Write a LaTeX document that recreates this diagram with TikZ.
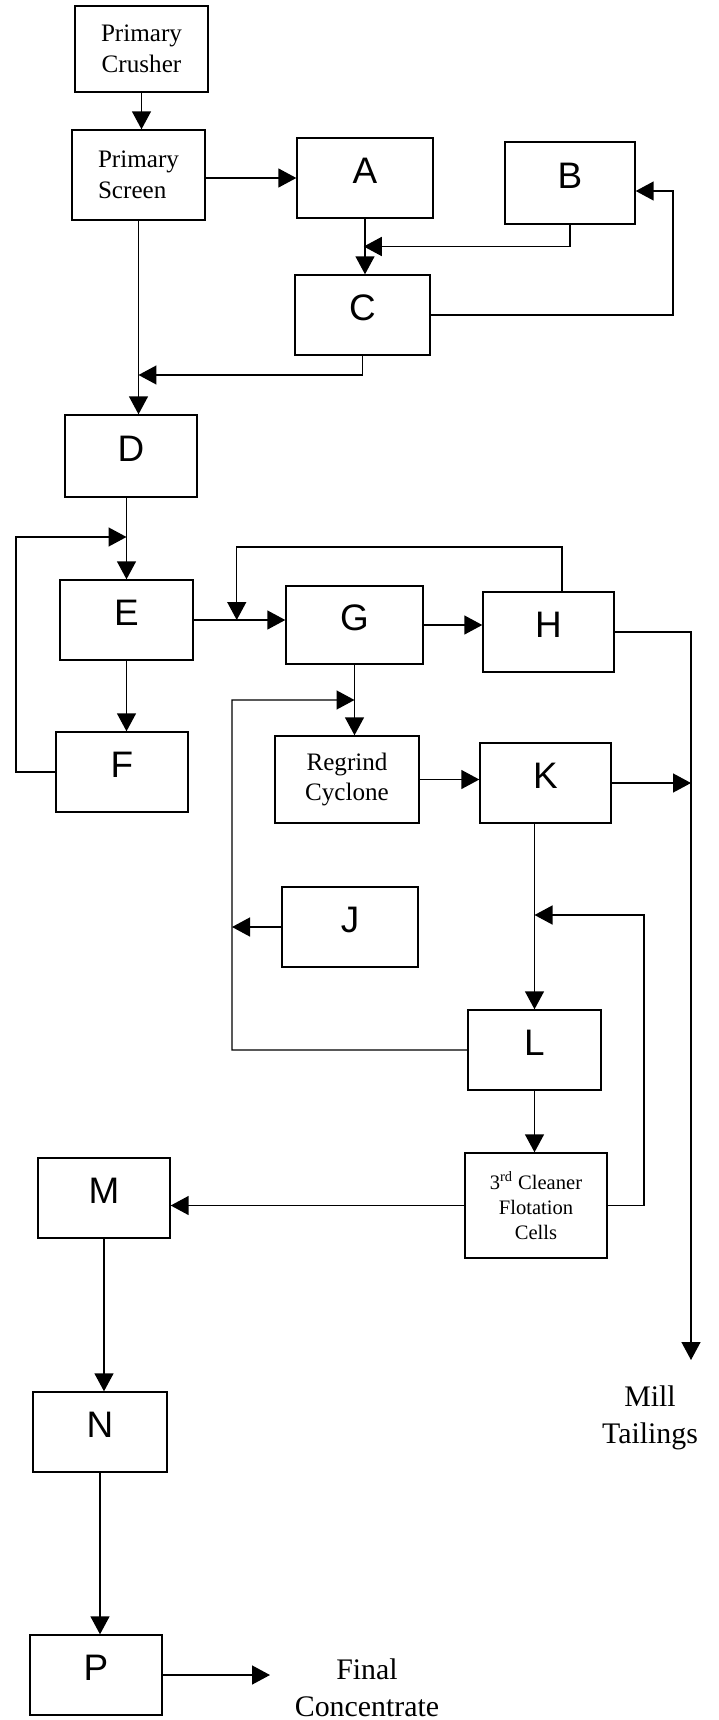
\documentclass[tikz,border=0pt]{standalone}
\usepackage{fontspec}
\setmainfont{Liberation Serif}
\newfontfamily\lettersf{Liberation Sans}
\usepackage{tikz}
\usetikzlibrary{arrows.meta, calc, positioning}

\begin{document}
\begin{tikzpicture}[>={Triangle[length=0.36cm, width=0.38cm]}, x=0.02cm, y=-0.02cm, line width=0.8pt,
    unit/.style={draw, minimum width=2.66cm, minimum height=1.6cm, inner sep=2pt},
    letter/.style={unit, font=\lettersf\fontsize{21}{25}\selectfont, text depth=0.28cm},
    word/.style={unit, align=center, font=\fontsize{14.3}{17.6}\selectfont},
    outlet/.style={align=center, inner sep=0pt, font=\fontsize{17}{21}\selectfont}]
    \useasboundingbox (0,0) rectangle (719,1720);

    % 1. Crushing and screening circuit
    \node[word, minimum height=1.72cm] (crusher) at (141.5,49) {Primary\\Crusher};
    \node[word, align=left, minimum height=1.8cm] (screen) at (138.5,175) {Primary\\Screen};
    \node[letter, minimum width=2.72cm] (A) at (365,178) {A};
    \node[letter, minimum width=2.6cm, minimum height=1.64cm] (B) at (570,183) {B};
    \node[letter, minimum width=2.7cm] (C) at (362.5,315) {C};
    \node[letter, minimum width=2.64cm, minimum height=1.64cm] (D) at (131,456) {D};

    % 2. Grinding and flotation
    \node[letter] (E) at (126.5,620) {E};
    \node[letter, minimum width=2.64cm] (F) at (122,772) {F};
    \node[letter, minimum width=2.74cm, minimum height=1.56cm] (G) at (354.5,625) {G};
    \node[letter, minimum width=2.62cm] (H) at (548.5,632) {H};
    \node[word, minimum width=2.88cm, minimum height=1.74cm] (regrind) at (347,779.5) {Regrind\\Cyclone};
    \node[letter, minimum width=2.62cm] (K) at (545.5,783) {K};
    \node[letter, minimum width=2.72cm] (J) at (350,927) {J};
    \node[letter] (L) at (534.5,1050) {L};
    \node[word, minimum width=2.84cm, minimum height=2.1cm, font=\fontsize{11.7}{14.2}\selectfont] (cleaner) at (536,1205.5) {3\textsuperscript{rd} Cleaner\\Flotation\\Cells};

    % 3. Concentrate handling
    \node[letter, minimum width=2.64cm] (M) at (104,1198) {M};
    \node[letter, minimum width=2.68cm] (N) at (100,1432) {N};
    \node[letter, minimum width=2.64cm] (P) at (96,1675) {P};
    \node[outlet] (tailings) at (650,1418) {Mill\\Tailings};
    \node[outlet] (final) at (367,1688) {Final\\Concentrate};

    % 4. Bend points of the loops
    \coordinate (ac) at ($(A.south)!0.5!(C.north)$);
    \coordinate (cloop) at (673,191);
    \coordinate (sd) at (screen.south |- 0,375);
    \coordinate (de) at (E.north |- 0,537);
    \coordinate (floop) at (16,537);
    \coordinate (eg) at ($(E.east)!0.47!(E.east -| G.west)$);
    \coordinate (hloop) at (562,547);
    \coordinate (tail) at (691,1360);
    \coordinate (gr) at ($(G.south)!0.5!(G.south |- regrind.north)$);
    \coordinate (rloop) at (232,700);
    \coordinate (kloop) at (644,915);
    \coordinate (pout) at (270,1677);

    % 5. Flow lines
    \draw[->] (crusher.south) -- (crusher.south |- screen.north);
    \draw[->] (screen.east |- A.west) -- (A.west);
    \draw[->] (A.south) -- (A.south |- C.north);
    \draw[->] (B.south) |- (ac);
    \draw[->] (C.east) -| (cloop) -- (cloop -| B.east);
    \draw[->] (screen.south) -- (screen.south |- D.north);
    \draw[->] (C.south) |- (sd);
    \draw[->] (E.north |- D.south) -- (E.north);
    \draw[->] (F.west) -| (floop) -- (de);
    \draw[->] (E.south) -- (E.south |- F.north);
    \draw[->] (E.east) -- (E.east -| G.west);
    \draw[->] (hloop |- H.north) -- (hloop) -| (eg);
    \draw[->] (G.east) -- (G.east -| H.west);
    \draw[->] (H.east) -| (tail);
    \draw[->] (G.south) -- (G.south |- regrind.north);
    \draw[->] (L.west) -| (rloop) -- (gr);
    \draw[->] (J.west) -- (J.west -| rloop);
    \draw[->] (regrind.east) -- (regrind.east -| K.west);
    \draw[->] (K.east) -- (K.east -| tail);
    \draw[->] (L.north |- K.south) -- (L.north);
    \draw[->] (cleaner.east) -| (kloop) -- (kloop -| L.north);
    \draw[->] (L.south) -- (L.south |- cleaner.north);
    \draw[->] (cleaner.west) -- (cleaner.west -| M.east);
    \draw[->] (M.south) -- (M.south |- N.north);
    \draw[->] (N.south) -- (N.south |- P.north);
    \draw[->] (P.east) -- (P.east -| pout);

\end{tikzpicture}
\end{document}
